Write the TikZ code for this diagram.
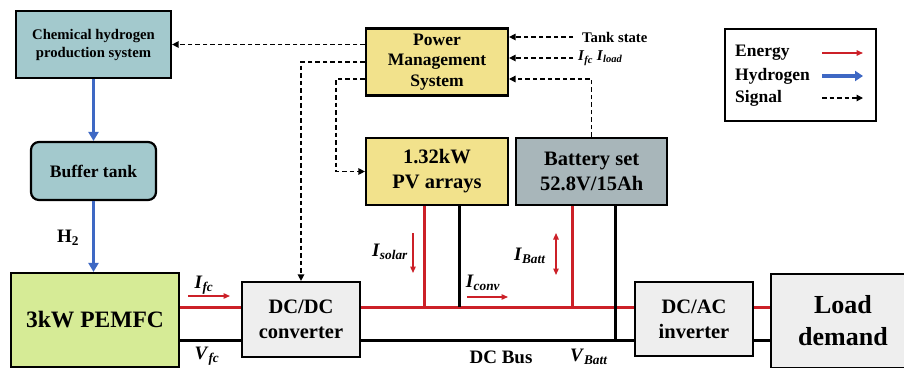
\documentclass[tikz,border=0pt]{standalone}
\usepackage{fontspec}
\setmainfont{Liberation Serif}
\usetikzlibrary{arrows.meta,positioning}

\definecolor{tealbox}{RGB}{163,201,205}
\definecolor{pmsyellow}{RGB}{242,226,140}
\definecolor{fcgreen}{RGB}{214,235,150}
\definecolor{batgray}{RGB}{168,182,186}
\definecolor{lgray}{RGB}{238,238,238}
\definecolor{ered}{RGB}{204,32,40}
\definecolor{hblue}{RGB}{62,104,196}

\newcommand{\qs}[2]{\textbf{\textit{#1}\textsubscript{\textit{#2}}}}
\newcommand{\fsz}[2]{\fontsize{#1}{#2}\selectfont}

\begin{document}
\begin{tikzpicture}[x=1pt, y=-1pt,
  blk/.style={rectangle, draw, line width=2.2pt, align=center, inner sep=0pt, font=\bfseries},
  energy/.style={line width=3pt, draw=ered},
  bus/.style={line width=3pt},
  hydro/.style={-{Triangle[length=9pt,width=10pt]}, line width=3pt, draw=hblue},
  signal/.style={-{Triangle[length=6.5pt,width=6.5pt]}, dash pattern=on 4.5pt off 3pt, line width=1.3pt},
  cur/.style={-{Triangle[length=6.5pt,width=5.5pt]}, line width=1.3pt, draw=ered},
  lbl/.style={font=\bfseries\fsz{19}{22}, inner sep=0pt}
]
  \clip (0,0) rectangle (904,367);
  \fill[white] (0,0) rectangle (904,367);

  % blocks
  \node[blk, fill=tealbox, minimum width=155, minimum height=67, font=\bfseries\fsz{14.7}{18}]
    (chem) at (93.5,44.5) {Chemical hydrogen\\production system};
  \node[blk, fill=tealbox, rounded corners=8pt, minimum width=125, minimum height=58, font=\bfseries\fsz{17.5}{20}]
    (buffer) at (93.5,171) {Buffer tank};
  \node[blk, fill=fcgreen, minimum width=168, minimum height=94, font=\bfseries\fsz{23.5}{28}]
    (pemfc) at (95,320) {3kW PEMFC};
  \node[blk, fill=pmsyellow, minimum width=142, minimum height=67, font=\bfseries\fsz{17.5}{20.5}]
    (pms) at (437,62) {Power\\Management\\System};
  \node[blk, fill=pmsyellow, minimum width=142, minimum height=67, font=\bfseries\fsz{20.5}{25}]
    (pv) at (437,171.5) {1.32kW\\PV arrays};
  \node[blk, fill=batgray, minimum width=151, minimum height=67, font=\bfseries\fsz{20.5}{25}, right=6pt of pv]
    (bat) {Battery set\\52.8V/15Ah};
  \node[blk, fill=lgray, minimum width=118, minimum height=75, font=\bfseries\fsz{20.5}{25}]
    (dcdc) at (301,319.5) {DC/DC\\converter};
  \node[blk, fill=lgray, minimum width=118, minimum height=74, font=\bfseries\fsz{20.5}{25}]
    (dcac) at (694,319) {DC/AC\\inverter};
  \node[blk, fill=lgray, minimum width=144, minimum height=94, font=\bfseries\fsz{26}{32}]
    (load) at (843,321) {Load\\demand};

  % legend
  \node[draw, line width=1.5pt, minimum width=151, minimum height=92] (legend) at (800.5,75) {};
  \node[lbl, anchor=west, font=\bfseries\fsz{17.5}{20}] (lgE) at (735,53) {Energy};
  \node[lbl, anchor=west, font=\bfseries\fsz{17.5}{20}] (lgH) at (735,76) {Hydrogen};
  \node[lbl, anchor=west, font=\bfseries\fsz{17.5}{20}] (lgS) at (735,98) {Signal};
  \coordinate (lgE1) at (822,53); \coordinate (lgE2) at (863,53);
  \coordinate (lgH1) at (822,76); \coordinate (lgH2) at (863,76);
  \coordinate (lgS1) at (822,98); \coordinate (lgS2) at (863,98);
  \draw[cur, line width=1.5pt] (lgE1) -- (lgE2);
  \draw[hydro, line width=4pt, -{Triangle[length=8pt,width=10pt]}] (lgH1) -- (lgH2);
  \draw[signal] (lgS1) -- (lgS2);

  % hydrogen
  \draw[hydro] (chem) -- (buffer);
  \draw[hydro] (buffer.south) -- (buffer.south |- pemfc.north);
  \node[lbl] (h2) at (68,238) {H\textsubscript{2}};

  % signals
  \coordinate (sc) at (336,79);
  \coordinate (sr) at (509,79);
  \draw[signal] (pms.west |- chem.east) -- (chem.east);
  \draw[signal] (pms.west) -| (dcdc.north);
  \draw[signal] (pms.west |- sc) -- (sc) |- (pv.west);
  \node[lbl, anchor=west, font=\bfseries\fsz{14.7}{17}] (tank) at (582,37) {Tank state};
  \node[lbl, anchor=west, font=\bfseries\fsz{15}{17}] (meas) at (578,58) {\qs{I}{fc} \qs{I}{load}};
  \draw[signal] ([xshift=-9pt]tank.west) -- (pms.east |- tank.west);
  \draw[signal] ([xshift=-5pt]meas.west) -- (pms.east |- meas.west);
  \draw[signal] (bat.north) |- (sr);

  % buses
  \coordinate (rb) at (0,307);
  \coordinate (bb) at (0,340);
  \draw[energy] (pemfc.east |- rb) -- (dcdc.west |- rb);
  \draw[energy] (dcdc.east |- rb) -- (dcac.west |- rb);
  \draw[energy] (dcac.east |- rb) -- (load.west |- rb);
  \draw[bus] (pemfc.east |- bb) -- (dcdc.west |- bb);
  \draw[bus] (dcdc.east |- bb) -- (dcac.west |- bb);
  \draw[bus] (dcac.east |- bb) -- (load.west |- bb);

  \coordinate (pvr) at (424,307);
  \coordinate (pvb) at (459,307);
  \coordinate (btr) at (572,307);
  \coordinate (btb) at (615,340);
  \draw[energy] (pvr |- pv.south) -- (pvr);
  \draw[bus] (pvb |- pv.south) -- (pvb);
  \draw[energy] (btr |- bat.south) -- (btr);
  \draw[bus] (btb |- bat.south) -- (btb);

  % currents and voltages
  \node[lbl] (ifc) at (204,285) {\qs{I}{fc}};
  \node[lbl] (vfc) at (207,356) {\qs{V}{fc}};
  \node[lbl] (isolar) at (390,252) {\qs{I}{solar}};
  \node[lbl] (iconv) at (483,283) {\qs{I}{conv}};
  \node[lbl] (ibatt) at (530,256) {\qs{I}{Batt}};
  \node[lbl] (dcbus) at (501,357) {DC Bus};
  \node[lbl] (vbatt) at (589,357) {\qs{V}{Batt}};
  \coordinate (ifc1) at (188,296); \coordinate (ifc2) at (230,296);
  \coordinate (isl1) at (413,233); \coordinate (isl2) at (413,273);
  \coordinate (icv1) at (467,297); \coordinate (icv2) at (508,297);
  \coordinate (ibt1) at (556,233); \coordinate (ibt2) at (556,275);
  \draw[cur] (ifc1) -- (ifc2);
  \draw[cur] (isl1) -- (isl2);
  \draw[cur] (icv1) -- (icv2);
  \draw[cur, {Triangle[length=6.5pt,width=5.5pt]}-{Triangle[length=6.5pt,width=5.5pt]}] (ibt1) -- (ibt2);
\end{tikzpicture}
\end{document}
